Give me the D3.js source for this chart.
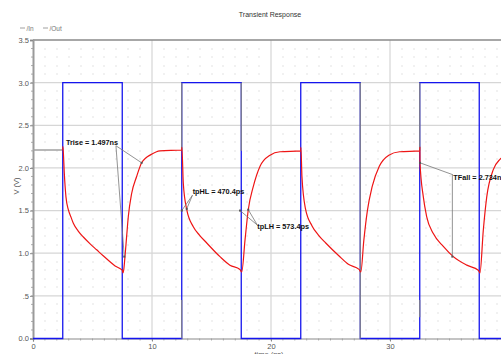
<!DOCTYPE html>
<html><head><meta charset="utf-8">
<script src="https://cdn.jsdelivr.net/npm/d3@7"></script>
<style>
html,body{margin:0;padding:0;background:#fff;overflow:hidden;}
svg{display:block;font-family:"Liberation Sans",Arial,sans-serif;}
</style></head>
<body><svg id="c" width="501" height="354"></svg>
<script>
// ---- data ----
const title = "Transient Response";
const seriesNames = ["/In", "/Out"];
const vTicks = [0, 0.5, 1, 1.5, 2, 2.5, 3, 3.5];
const vTickLabels = ["0.0", ".5", "1.0", "1.5", "2.0", "2.5", "3.0", "3.5"];
const tTicks = [0, 10, 20, 30];
const tTickLabels = ["0", "10", "20", "30"];
const xLabel = "time (ns)";
const yLabel = "V (V)";

// input square wave [time ns, volts]
const inData = [[0,0],[2.5,0],[2.5,3],[7.5,3],[7.5,0],[12.5,0],[12.5,3],[17.5,3],[17.5,0],
  [22.5,0],[22.5,3],[27.5,3],[27.5,0],[32.5,0],[32.5,3],[37.5,3],[37.5,0],[40,0]];

// initial output level before first edge
const outInit = [[0,2.21],[2.5,2.21]];
// output response
const outData = [
  [2.5,2.21],[2.51,2.25],[2.55,2.18],[2.63,1.94],[2.77,1.66],[2.97,1.51],[3.2,1.42],[3.39,1.35],[3.8,1.26],[4.23,1.19],
  [4.8,1.11],[5.35,1.04],[5.9,0.97],[6.47,0.90],[6.9,0.85],[7.31,0.82],[7.5,0.80],[7.56,0.77],[7.62,0.80],[7.73,0.96],
  [7.87,1.20],[8.01,1.43],[8.29,1.70],[8.71,1.90],[9.13,2.06],[9.5,2.12],[9.83,2.15],[10.67,2.20],[12.5,2.21],
  [12.51,2.24],[12.63,1.82],[12.92,1.51],[13.47,1.31],[14.0,1.21],[14.6,1.12],[15.71,0.96],[16.55,0.86],[17.39,0.81],
  [17.54,0.78],[17.82,1.16],[18.09,1.51],[18.51,1.78],[19.08,2.02],[19.92,2.15],[20.76,2.19],[22.5,2.20],
  [22.51,2.24],[22.6,1.90],[22.9,1.52],[23.45,1.32],[24.0,1.21],[24.6,1.12],[25.7,0.97],[26.5,0.87],[27.4,0.81],
  [27.55,0.78],[27.8,1.15],[28.1,1.50],[28.5,1.78],[29.1,2.02],[29.9,2.15],[30.8,2.19],[32.5,2.20],
  [32.51,2.24],[32.52,2.06],[32.8,1.66],[33.08,1.43],[33.64,1.23],[34.48,1.08],[35.32,0.96],[36.45,0.86],[37.42,0.80],
  [37.56,0.77],[37.84,1.27],[38.13,1.66],[38.68,1.98],[39.24,2.10],[39.6,2.14],[40,2.17]
];

// gray cursor segments on edges [time, v0, v1]
const cursorSegs = [[12.5,2.2,3.0],[12.5,0,0.45],[17.5,2.2,3.0],[27.5,0,3.0],[32.5,2.2,3.0],[32.5,0.25,0.45]];

// measurement annotations
const annotations = [
  {text:"Trise = 1.497ns", tx:2.77, tv:2.30, at:6.97, av:2.26, targets:[[9.13,2.06],[7.67,0.96]]},
  {text:"tpHL = 470.4ps", tx:13.42, tv:1.72, at:13.4, av:1.68, targets:[[12.5,1.5],[12.92,1.52]]},
  {text:"tpLH = 573.4ps", tx:18.85, tv:1.31, at:18.85, av:1.33, targets:[[17.4,1.5],[18.09,1.51]]},
  {text:"TFall = 2.734ns", tx:35.32, tv:1.89, at:35.29, av:1.92, targets:[[32.52,2.06]], vert:[35.24,0.96]}
];

// ---- drawing ----
const svg = d3.select("#c");
const x = d3.scaleLinear().domain([0,40]).range([33, 509]);
const y = d3.scaleLinear().domain([0,3.5]).range([338.5, 40]);
const R = 501;

// dotted grid
const dots = svg.append("g");
for (let t = 1; t < 40; t++) {
  if (t % 10 === 0) continue;
  for (let k = 1; k < 35; k++) {
    if (k % 5 === 0) continue;
    const px = x(t), py = y(k/10);
    if (px > R) continue;
    dots.append("rect").attr("x", Math.round(px)-0.5).attr("y", Math.round(py)-0.5)
      .attr("width",1).attr("height",1).attr("fill","#c8c8c8");
  }
}
// major grid
const grid = svg.append("g").attr("stroke","#d6d6d6").attr("stroke-width",1.2);
vTicks.filter(v => v>0 && v<3.5).forEach(v => grid.append("line").attr("x1",x(0)).attr("x2",R).attr("y1",y(v)).attr("y2",y(v)));
tTicks.filter(t => t>0).forEach(t => grid.append("line").attr("x1",x(t)).attr("x2",x(t)).attr("y1",y(3.5)).attr("y2",y(0)));

// frame top
svg.append("line").attr("x1",x(0)).attr("x2",R).attr("y1",y(3.5)).attr("y2",y(3.5)).attr("stroke","#8a8a8a").attr("stroke-width",1.3);

// axes
const yAxis = d3.axisLeft(y).tickValues(vTicks).tickFormat((d,i)=>vTickLabels[i]).tickSize(3).tickPadding(1);
const gy = svg.append("g").attr("transform",`translate(${x(0)},0)`).call(yAxis);
gy.select(".domain").attr("stroke","#9a9a9a").attr("stroke-width",2);
gy.selectAll(".tick line").attr("stroke","#888");
gy.selectAll("text").attr("fill","#555").style("font-size","7.5px").style("font-family","Liberation Sans, Arial, sans-serif");

const xAxis = d3.axisBottom(x).tickValues(tTicks).tickFormat((d,i)=>tTickLabels[i]).tickSize(3).tickPadding(2);
const gx = svg.append("g").attr("transform",`translate(0,${y(0)})`).call(xAxis);
gx.select(".domain").attr("stroke","#8a8a8a").attr("stroke-width",1.2);
gx.selectAll(".tick line").attr("stroke","#888");
gx.selectAll("text").attr("fill","#555").style("font-size","7.5px").style("font-family","Liberation Sans, Arial, sans-serif");
// minor ticks
const minor = svg.append("g").attr("stroke","#999").attr("stroke-width",0.8);
d3.range(1,40).forEach(t => { if (x(t) < R) minor.append("line").attr("x1",x(t)).attr("x2",x(t)).attr("y1",y(0)).attr("y2",y(0)+2); });
d3.range(1,35).forEach(k => minor.append("line").attr("x1",x(0)-2).attr("x2",x(0)).attr("y1",y(k/10)).attr("y2",y(k/10)));

// title, labels, legend
svg.append("text").attr("x",270).attr("y",17).attr("text-anchor","middle").attr("fill","#333").style("font-size","7px").text(title);
svg.append("text").attr("x",269).attr("y",357).attr("text-anchor","middle").attr("fill","#555").style("font-size","7.5px").text(xLabel);
svg.append("text").attr("transform","translate(19,186) rotate(-90)").attr("text-anchor","middle").attr("fill","#555").style("font-size","7.5px").text(yLabel);
const lg = svg.append("g");
[[20,seriesNames[0]],[43,seriesNames[1]]].forEach(([lx,name]) => {
  lg.append("line").attr("x1",lx).attr("x2",lx+5).attr("y1",28).attr("y2",28).attr("stroke","#888").attr("stroke-width",0.8);
  lg.append("text").attr("x",lx+6.5).attr("y",30.5).attr("fill","#777").style("font-size","6.5px").text(name);
});

// clip
svg.append("defs").append("clipPath").attr("id","pc").append("rect").attr("x",x(0)).attr("y",y(3.5)-2).attr("width",R-x(0)).attr("height",y(0)-y(3.5)+4);
const plot = svg.append("g").attr("clip-path","url(#pc)");
const line = d3.line().x(d=>x(d[0])).y(d=>y(d[1]));
const smooth = d3.line().x(d=>x(d[0])).y(d=>y(d[1])).curve(d3.curveMonotoneX);

plot.append("path").datum(outInit).attr("d",line).attr("fill","none").attr("stroke","#a0a0a0").attr("stroke-width",1.5);
plot.append("path").datum(inData).attr("d",line).attr("fill","none").attr("stroke","#1515ee").attr("stroke-width",1.3);
cursorSegs.forEach(s => plot.append("line").attr("x1",x(s[0])).attr("x2",x(s[0])).attr("y1",y(s[1])).attr("y2",y(s[2]))
  .attr("stroke","#888").attr("stroke-width",1.2));
plot.append("path").datum(outData).attr("d",smooth).attr("fill","none").attr("stroke","#ee1515").attr("stroke-width",1.2);

// annotations
const ann = svg.append("g");
annotations.forEach(a => {
  a.targets.forEach(tg => ann.append("line").attr("x1",x(a.at)).attr("y1",y(a.av)).attr("x2",x(tg[0])).attr("y2",y(tg[1]))
    .attr("stroke","#777").attr("stroke-width",0.8));
  if (a.vert) ann.append("line").attr("x1",x(a.vert[0])).attr("y1",y(a.av)).attr("x2",x(a.vert[0])).attr("y2",y(a.vert[1]))
    .attr("stroke","#777").attr("stroke-width",0.8);
  a.targets.concat(a.vert ? [a.vert] : []).forEach(tg => ann.append("rect").attr("x",x(tg[0])-1).attr("y",y(tg[1])-1).attr("width",2).attr("height",2).attr("fill","#555"));
  ann.append("text").attr("x",x(a.tx)).attr("y",y(a.tv)+2.5).attr("fill","#111").style("font-size","7.3px").style("font-weight","bold").text(a.text);
});
</script></body></html>
